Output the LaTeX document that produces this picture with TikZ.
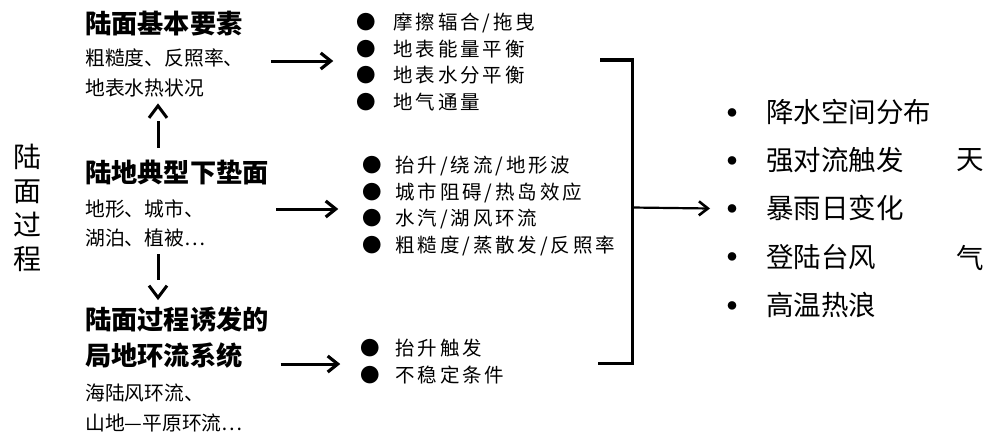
\documentclass[tikz,border=0pt]{standalone}
\usepackage{fontspec}
\usetikzlibrary{arrows.meta}
\newfontfamily\cjk{Noto Sans CJK SC}
\newfontfamily\cjkls[LetterSpace=15]{Noto Sans CJK SC}
\newcommand\rdot{\makebox[44pt][l]{\makebox[20pt]{\raisebox{6.3pt}{\fontsize{9.5}{10}\selectfont ●}}}}
\begin{document}
\begin{tikzpicture}[x=1pt,y=-1pt,
  lbl/.style={inner sep=0pt,anchor=west,font=\cjk\fontsize{19.8}{22}\selectfont},
  hdr/.style={inner sep=0pt,anchor=west,font=\cjk\bfseries\fontsize{26.2}{30}\selectfont},
  lst/.style={inner sep=0pt,anchor=west,align=left,font=\cjkls\fontsize{19.5}{26.7}\selectfont},
  res/.style={inner sep=0pt,anchor=west,align=left,font=\cjk\fontsize{27.5}{48.25}\selectfont},
  sidelbl/.style={inner sep=0pt,font=\cjk\fontsize{27.5}{30}\selectfont},
  vline/.style={line width=3pt},
  chev/.style={line width=3pt},
  harr/.style={line width=3pt,-{Straight Barb[length=10pt,width=16pt,line width=3.2pt]}},
  oarr/.style={line width=2.2pt,-{Straight Barb[length=9pt,width=14pt,line width=2.6pt]}},
  brk/.style={line width=3pt},
]
\useasboundingbox (0,0) rectangle (1000,436);

% vertical title
\node[inner sep=0pt,align=center,font=\cjk\fontsize{28}{34}\selectfont] (title) at (27,208) {陆\\面\\过\\程};

% left column
\node[hdr] (h1) at (85,24) {陆面基本要素};
\node[lbl] (s1a) at (85,58) {粗糙度、反照率、};
\node[lbl] (s1b) at (85,88) {地表水热状况};
\node[hdr] (h2) at (85,172) {陆地典型下垫面};
\node[lbl] (s2a) at (85,209) {地形、城市、};
\node[lbl] (s2b) at (85,238) {湖泊、植被…};
\node[hdr] (h3a) at (85,320) {陆面过程诱发的};
\node[hdr] (h3b) at (85,356) {局地环流系统};
\node[lbl] (s3a) at (85,393) {海陆风环流、};
\node[lbl] (s3b) at (85,423) {山地—平原环流…};

% middle lists
\node[lst] (L1) at (356.25,62) {\makebox[36.75pt][l]{●}摩擦辐合/拖曳\\
\makebox[36.75pt][l]{●}地表能量平衡\\
\makebox[36.75pt][l]{●}地表水分平衡\\
\makebox[36.75pt][l]{●}地气通量};
\node[lst] (L2) at (362.25,206) {\makebox[32.75pt][l]{●}抬升/绕流/地形波\\
\makebox[32.75pt][l]{●}城市阻碍/热岛效应\\
\makebox[32.75pt][l]{●}水汽/湖风环流\\
\makebox[32.75pt][l]{●}粗糙度/蒸散发/反照率};
\node[lst] (L3) at (360.25,361.5) {\makebox[34.75pt][l]{●}抬升触发\\
\makebox[34.75pt][l]{●}不稳定条件};

% right list
\node[res] (R) at (722,208.5) {\rdot 降水空间分布\\
\rdot 强对流触发\\
\rdot 暴雨日变化\\
\rdot 登陆台风\\
\rdot 高温热浪};
\node[sidelbl] (tian) at (970,160) {天};
\node[sidelbl] (qi) at (970,258) {气};

% vertical arrows (shaft + detached chevron head)
\draw[vline,shorten <=11.75pt,shorten >=24pt] ([xshift=73pt]h2.north west) -- ([xshift=73pt]s1b.south west);
\draw[chev] ([shift={(64,20.5)}]s1b.south west) -- ([shift={(73,8.5)}]s1b.south west) -- ([shift={(82,20.5)}]s1b.south west);
\draw[vline,shorten <=7pt,shorten >=26.75pt] ([xshift=73pt]s2b.south west) -- ([xshift=73pt]h3a.north west);
\draw[chev] ([shift={(64,-21.5)}]h3a.north west) -- ([shift={(73,-9.5)}]h3a.north west) -- ([shift={(82,-21.5)}]h3a.north west);

% horizontal arrows
\draw[harr] ([shift={(27,3)}]s1a.east) -- ([shift={(-23,-1)}]L1.west);
\draw[harr] ([shift={(72,0)}]s2a.east) -- ([shift={(-24,3)}]L2.west);
\draw[harr] ([shift={(38,8)}]h3b.east) -- ([shift={(-20,2.5)}]L3.west);

% bracket
\coordinate (bt) at (600,60);
\coordinate (bb) at (598,363);
\draw[brk] (bt) -- (632,60) -- (632,363) -- (bb);
\coordinate (bm) at (632,207.5);
\draw[oarr] (bm) -- ([xshift=-12pt]R.west);
\end{tikzpicture}
\end{document}
